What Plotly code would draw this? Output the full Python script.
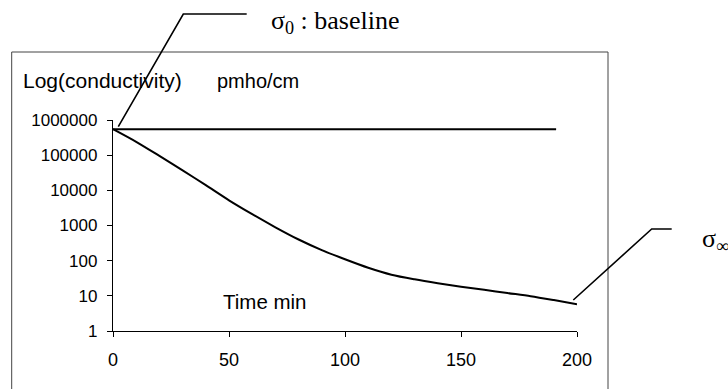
import plotly.graph_objects as go

# ---- data ----
time_min = [0, 10, 20, 30, 40, 50, 60, 70, 80, 90, 100, 110, 120, 130, 140, 150,
            160, 170, 180, 190, 200]
conductivity = [5.5e5, 2.4e5, 9.5e4, 3.7e4, 1.4e4, 5.2e3, 2.1e3, 890, 400, 200, 110,
                63, 40, 29.5, 22.9, 18.2, 14.8, 12.0, 9.8, 7.6, 5.8]
baseline_time = [0, 191]
baseline_value = [5.5e5, 5.5e5]
x_ticks = [0, 50, 100, 150, 200]
y_ticks = [1, 10, 100, 1000, 10000, 100000, 1000000]
y_tick_labels = ["1", "10", "100", "1000", "10000", "100000", "1000000"]

# ---- layout geometry (pixels) ----
W, H = 728, 389
L, R, T, B = 113, 151, 120, 58
PW = W - L - R
PH = H - T - B


def px(x):
    return (x - L) / PW


def py(y):
    return (H - B - y) / PH


fig = go.Figure()
fig.add_trace(go.Scatter(x=baseline_time, y=baseline_value, mode="lines",
                         line=dict(color="black", width=2), showlegend=False,
                         hoverinfo="skip"))
fig.add_trace(go.Scatter(x=time_min, y=conductivity, mode="lines",
                         line=dict(color="black", width=2, shape="spline", smoothing=0.8),
                         showlegend=False))

sans = "Liberation Sans, Arial, sans-serif"
serif = "Liberation Serif, Times New Roman, serif"

shapes = [
    dict(type="rect", xref="paper", yref="paper",
         x0=px(11.7), x1=px(608), y0=py(395), y1=py(52),
         line=dict(color="#444", width=1)),
    dict(type="path", xref="paper", yref="paper",
         path=f"M {px(118.3)} {py(126.7)} L {px(183.3)} {py(14)} L {px(246.7)} {py(14)}",
         line=dict(color="black", width=1.6)),
    dict(type="path", xref="paper", yref="paper",
         path=f"M {px(573.3)} {py(300)} L {px(651.7)} {py(229)} L {px(671.7)} {py(229)}",
         line=dict(color="black", width=1.6)),
]

annotations = [
    dict(text="Log(conductivity)", x=px(21), y=py(80.7), xref="paper", yref="paper",
         xanchor="left", yanchor="middle", showarrow=False,
         font=dict(family=sans, size=21, color="black")),
    dict(text="pmho/cm", x=px(215), y=py(80.7), xref="paper", yref="paper",
         xanchor="left", yanchor="middle", showarrow=False,
         font=dict(family=sans, size=20, color="black")),
    dict(text="Time min", x=px(221), y=py(301.7), xref="paper", yref="paper",
         xanchor="left", yanchor="middle", showarrow=False,
         font=dict(family=sans, size=20.5, color="black")),
    dict(text="σ<sub>0</sub> : baseline", x=px(269), y=py(22), xref="paper", yref="paper",
         xanchor="left", yanchor="middle", showarrow=False,
         font=dict(family=serif, size=26, color="black")),
    dict(text="σ<sub>∞</sub>", x=px(700), y=py(240), xref="paper", yref="paper",
         xanchor="left", yanchor="middle", showarrow=False,
         font=dict(family=serif, size=26, color="black")),
]

fig.update_layout(
    width=W, height=H,
    margin=dict(l=L, r=R, t=T, b=B, pad=0, autoexpand=False),
    paper_bgcolor="white", plot_bgcolor="white",
    font=dict(family=sans, size=17, color="black"),
    shapes=shapes, annotations=annotations,
)
fig.update_xaxes(range=[0, 200], tickvals=x_ticks, showgrid=False, zeroline=False,
                 showline=True, linecolor="black", linewidth=1.3,
                 ticks="outside", ticklen=5, tickcolor="black", tickwidth=1.3,
                 ticklabelstandoff=7, automargin=False,
                 tickfont=dict(family=sans, size=18, color="black"))
fig.update_yaxes(type="log", range=[0, 6], tickmode="array",
                 tickvals=y_ticks, ticktext=y_tick_labels,
                 showgrid=False, zeroline=False,
                 showline=True, linecolor="black", linewidth=1.3,
                 ticks="outside", ticklen=5, tickcolor="black", tickwidth=1.3,
                 ticklabelstandoff=6, automargin=False,
                 tickfont=dict(family=sans, size=17, color="black"))

fig.write_html("out.html")
